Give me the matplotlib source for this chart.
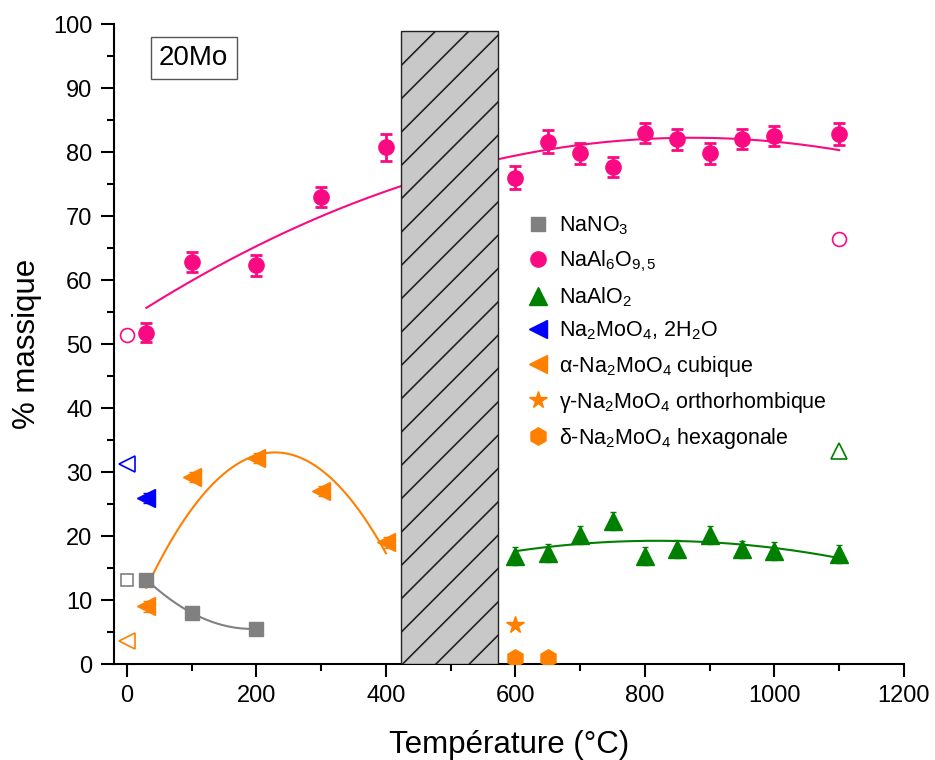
import numpy as np
import matplotlib.pyplot as plt
from matplotlib.patches import Rectangle
from matplotlib.ticker import MultipleLocator

plt.rcParams['font.family'] = ['Liberation Sans', 'DejaVu Sans']
plt.rcParams['mathtext.fontset'] = 'custom'
plt.rcParams['mathtext.rm'] = 'Liberation Sans'
plt.rcParams['mathtext.it'] = 'Liberation Sans:italic'
plt.rcParams['hatch.linewidth'] = 1.2

# data
t_nano3 = [30, 100, 200]
nano3 = [13.2, 8.0, 5.5]

t_al6 = [30, 100, 200, 300, 400, 600, 650, 700, 750, 800, 850, 900, 950, 1000, 1100]
al6 = [51.8, 62.8, 62.3, 73.0, 80.8, 76.0, 81.6, 79.8, 77.7, 83.0, 82.0, 79.8, 82.1, 82.5, 82.8]
al6_err = [1.5, 1.6, 1.6, 1.6, 2.1, 1.8, 1.8, 1.6, 1.6, 1.6, 1.6, 1.6, 1.6, 1.6, 1.7]

t_alo2 = [600, 650, 700, 750, 800, 850, 900, 950, 1000, 1100]
alo2 = [16.9, 17.4, 20.2, 22.4, 16.9, 18.0, 20.2, 17.9, 17.6, 17.2]

t_hyd = [30]
hyd = [26.0]

t_alpha = [30, 100, 200, 300, 400]
alpha = [9.0, 29.2, 32.2, 27.0, 19.0]

t_gamma = [600]
gamma = [6.1]

t_delta = [600, 650]
delta = [1.0, 0.9]

# open symbols
open_circle = ([0, 1100], [51.5, 66.4])
open_tri = ([1100], [33.3])
open_blue = ([0], [31.2])
open_orange = ([0], [3.6])
open_square = ([0], [13.2])

pink = '#FA0A82'
green = '#008000'
orange = '#FF8000'
grey = '#808080'
blue = '#0000FF'

fig = plt.figure(figsize=(9.35, 7.6), dpi=100)
ax = fig.add_axes([0.1219, 0.1263, 0.8449, 0.8418])

# polynomial fits
def fit(x, y, deg, x0, x1):
    c = np.polyfit(x, y, deg)
    xx = np.linspace(x0, x1, 200)
    return xx, np.polyval(c, xx)

xx, yy = fit(t_al6, al6, 2, 30, 1100)
ax.plot(xx, yy, color=pink, lw=1.5, zorder=2)
xx, yy = fit(t_alo2, alo2, 2, 600, 1100)
ax.plot(xx, yy, color=green, lw=1.5, zorder=2)
xx, yy = fit(t_alpha, alpha, 2, 30, 400)
ax.plot(xx, yy, color=orange, lw=1.5, zorder=2)
xx, yy = fit(t_nano3, nano3, 2, 30, 200)
ax.plot(xx, yy, color=grey, lw=1.5, zorder=2)

# hatched region
ax.add_patch(Rectangle((423, 0), 150, 99, facecolor='#c8c8c8', edgecolor='#222222',
                       hatch='/', lw=1.0, zorder=5))

h1, = ax.plot(t_nano3, nano3, 's', color=grey, ms=10, zorder=4, label='NaNO$_3$')
ax.errorbar(t_al6, al6, yerr=al6_err, fmt='none', ecolor=pink, elinewidth=2,
            capsize=4.5, capthick=2, zorder=3)
h2, = ax.plot(t_al6, al6, 'o', color=pink, ms=11, zorder=4, label='NaAl$_6$O$_{9,5}$')
ax.errorbar(t_alo2, alo2, yerr=1.4, fmt='none', ecolor=green, elinewidth=1,
            capsize=2, zorder=3)
h3, = ax.plot(t_alo2, alo2, '^', color=green, ms=12.5, zorder=4, label='NaAlO$_2$')
ax.errorbar(t_hyd, hyd, yerr=0.8, fmt='none', ecolor=blue, elinewidth=1, capsize=2, zorder=3)
h4, = ax.plot(t_hyd, hyd, '<', color=blue, ms=12.5, zorder=4, label='Na$_2$MoO$_4$, 2H$_2$O')
ax.errorbar(t_alpha, alpha, yerr=0.8, fmt='none', ecolor=orange, elinewidth=1, capsize=2, zorder=3)
h5, = ax.plot(t_alpha, alpha, '<', color=orange, ms=12.5, zorder=4, label='α-Na$_2$MoO$_4$ cubique')
h6, = ax.plot(t_gamma, gamma, '*', color=orange, ms=13, zorder=4, label='γ-Na$_2$MoO$_4$ orthorhombique')
h7, = ax.plot(t_delta, delta, 'h', color=orange, ms=12.5, zorder=4, label='δ-Na$_2$MoO$_4$ hexagonale')

ax.plot(*open_circle, 'o', mfc='none', mec=pink, ms=10, mew=1.2, clip_on=False)
ax.plot(*open_tri, '^', mfc='none', mec=green, ms=11, mew=1.2, clip_on=False)
ax.plot(*open_blue, '<', mfc='none', mec=blue, ms=11, mew=1.2, clip_on=False)
ax.plot(*open_orange, '<', mfc='none', mec=orange, ms=11, mew=1.2, clip_on=False)
ax.plot(*open_square, 's', mfc='none', mec=grey, ms=9, mew=1.2, clip_on=False)

ax.legend(handles=[h1, h2, h3, h4, h5, h6, h7], loc='upper left',
          bbox_to_anchor=(0.512, 0.716), frameon=False, fontsize=15.5,
          handlelength=1.0, handletextpad=0.5, labelspacing=0.52,
          borderaxespad=0)

ax.text(103, 94.7, '20Mo', fontsize=20, ha='center', va='center',
        bbox=dict(boxstyle='square,pad=0.3', facecolor='white', edgecolor='#555555', lw=1))

ax.set_xlim(-20, 1200)
ax.set_ylim(0, 100)
ax.xaxis.set_major_locator(MultipleLocator(200))
ax.xaxis.set_minor_locator(MultipleLocator(100))
ax.yaxis.set_major_locator(MultipleLocator(10))
ax.yaxis.set_minor_locator(MultipleLocator(5))
ax.tick_params(which='major', length=9.4, width=1.5, labelsize=17, pad=6, direction='out')
ax.tick_params(which='minor', length=5, width=1.5, direction='out')
for s in ['top', 'right']:
    ax.spines[s].set_visible(False)
for s in ['left', 'bottom']:
    ax.spines[s].set_linewidth(1.5)

ax.set_xlabel('Température (°C)', fontsize=22.5, labelpad=16)
ax.set_ylabel('% massique', fontsize=22.5, labelpad=8)

fig.savefig('out.png', dpi=100)
